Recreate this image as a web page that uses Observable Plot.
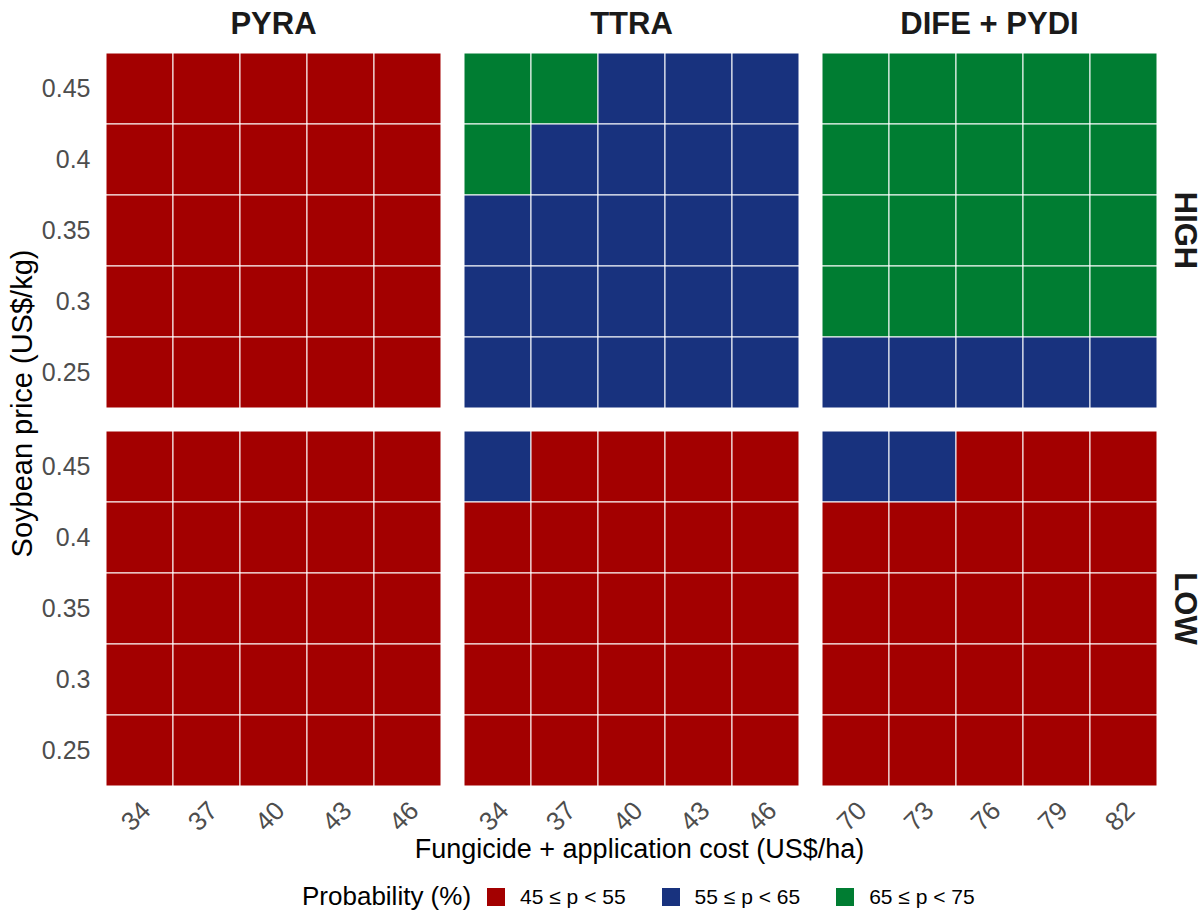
<!DOCTYPE html>
<html>
<head>
<meta charset="utf-8">
<script src="https://cdn.jsdelivr.net/npm/d3@7"></script>
<script src="https://cdn.jsdelivr.net/npm/@observablehq/plot@0.6"></script>
<style>
  html, body { margin: 0; padding: 0; background: #fff; }
  body { width: 1204px; height: 913px; overflow: hidden; font-family: "Liberation Sans", Arial, sans-serif; }
  #legend { height: 43px; padding-top: 10px; box-sizing: border-box; display: flex; align-items: center; justify-content: flex-start; padding-left: 302px; font-family: "Liberation Sans", Arial, sans-serif; }
  #legend .title { font-size: 26px; color: #000; margin-right: 16px; }
  #legend .sw { width: 18px; height: 18px; margin-right: 15px; }
  #legend .lab { font-size: 21px; color: #000; margin-right: 36px; }
  #legend .lab:last-child { margin-right: 0; }
</style>
</head>
<body>
<div id="chart"></div>
<div id="legend"></div>
<script>
// ---- data ----
const fungicides = ["PYRA", "TTRA", "DIFE + PYDI"];
const scenarios = ["HIGH", "LOW"];
const prices = [0.45, 0.4, 0.35, 0.3, 0.25];
const costsPYRA = [34, 37, 40, 43, 46];
const costsTTRA = [34, 37, 40, 43, 46];
const costsDIFE = [70, 73, 76, 79, 82];
const classes = ["45 ≤ p < 55", "55 ≤ p < 65", "65 ≤ p < 75"];
const classColors = ["#A30000", "#18327E", "#007D32"];

// probability class (1,2,3) per cell; rows = prices (top to bottom), columns = costs
const gridPyraHigh = [[1,1,1,1,1],[1,1,1,1,1],[1,1,1,1,1],[1,1,1,1,1],[1,1,1,1,1]];
const gridPyraLow  = [[1,1,1,1,1],[1,1,1,1,1],[1,1,1,1,1],[1,1,1,1,1],[1,1,1,1,1]];
const gridTtraHigh = [[3,3,2,2,2],[3,2,2,2,2],[2,2,2,2,2],[2,2,2,2,2],[2,2,2,2,2]];
const gridTtraLow  = [[2,1,1,1,1],[1,1,1,1,1],[1,1,1,1,1],[1,1,1,1,1],[1,1,1,1,1]];
const gridDifeHigh = [[3,3,3,3,3],[3,3,3,3,3],[3,3,3,3,3],[3,3,3,3,3],[2,2,2,2,2]];
const gridDifeLow  = [[2,2,1,1,1],[1,1,1,1,1],[1,1,1,1,1],[1,1,1,1,1],[1,1,1,1,1]];

// ---- tables built from data ----
const panels = [
  {fungicide: "PYRA", scenario: "HIGH", grid: gridPyraHigh},
  {fungicide: "PYRA", scenario: "LOW", grid: gridPyraLow},
  {fungicide: "TTRA", scenario: "HIGH", grid: gridTtraHigh},
  {fungicide: "TTRA", scenario: "LOW", grid: gridTtraLow},
  {fungicide: "DIFE + PYDI", scenario: "HIGH", grid: gridDifeHigh},
  {fungicide: "DIFE + PYDI", scenario: "LOW", grid: gridDifeLow}
];
const cells = [];
panels.forEach(p => p.grid.forEach((row, i) => row.forEach((c, j) => {
  cells.push({fungicide: p.fungicide, scenario: p.scenario, price: prices[i], col: j, cls: classes[c - 1]});
})));
const costTable = {"PYRA": costsPYRA, "TTRA": costsTTRA, "DIFE + PYDI": costsDIFE};
const ticks = [];
fungicides.forEach(f => costTable[f].forEach((v, j) => ticks.push({fungicide: f, col: j, label: String(v)})));

const ink = "#1a1a1a";
const chart = Plot.plot({
  width: 1204,
  height: 870,
  marginTop: 52,
  marginLeft: 105,
  marginRight: 47,
  marginBottom: 83,
  style: {fontFamily: "Liberation Sans, Arial, sans-serif", fontSize: "25px", color: "#4d4d4d", background: "#fff"},
  fx: {domain: fungicides, paddingInner: 0.0615, paddingOuter: 0, axis: null, label: null},
  fy: {domain: scenarios, paddingInner: 0.058, paddingOuter: 0, axis: null, label: null},
  x: {domain: [0, 1, 2, 3, 4], padding: 0, axis: null},
  y: {domain: prices, padding: 0, tickSize: 0, tickPadding: 15, label: null, tickFormat: d => String(d)},
  color: {domain: classes, range: classColors},
  marks: [
    Plot.cell(cells, {x: "col", y: "price", fx: "fungicide", fy: "scenario", fill: "cls", stroke: "white", strokeWidth: 1}),
    Plot.text(ticks, {x: "col", fx: "fungicide", fy: () => "LOW", text: "label", frameAnchor: "bottom",
      dy: 30, dx: -4, rotate: -45, textAnchor: "middle", lineAnchor: "middle", fontSize: 26, fill: "#4d4d4d"}),
    Plot.text(fungicides, {fx: d => d, fy: () => "HIGH", text: d => d, frameAnchor: "top", dy: -28,
      lineAnchor: "middle", fontSize: 31, fontWeight: "bold", fill: ink}),
    Plot.text(scenarios, {fx: () => "DIFE + PYDI", fy: d => d, text: d => d, frameAnchor: "right", dx: 27,
      rotate: 90, textAnchor: "middle", lineAnchor: "middle", fontSize: 31, fontWeight: "bold", fill: ink}),
    Plot.text(["Soybean price (US$/kg)"], {fx: () => "PYRA", fy: () => "HIGH", text: d => d, frameAnchor: "bottom-left",
      dx: -83, dy: -5, rotate: -90, textAnchor: "middle", lineAnchor: "middle", fontSize: 29, fill: "#000"}),
    Plot.text(["Fungicide + application cost (US$/ha)"], {fx: () => "TTRA", fy: () => "LOW", text: d => d, frameAnchor: "bottom",
      dx: 8, dy: 63, textAnchor: "middle", lineAnchor: "middle", fontSize: 27, fill: "#000"})
  ]
});
document.getElementById("chart").appendChild(chart);

// legend
const legend = document.getElementById("legend");
const t = document.createElement("span");
t.className = "title"; t.textContent = "Probability (%)";
legend.appendChild(t);
classes.forEach((c, i) => {
  const sw = document.createElement("span");
  sw.className = "sw"; sw.style.background = classColors[i];
  legend.appendChild(sw);
  const l = document.createElement("span");
  l.className = "lab"; l.textContent = c;
  legend.appendChild(l);
});
</script>
</body>
</html>
